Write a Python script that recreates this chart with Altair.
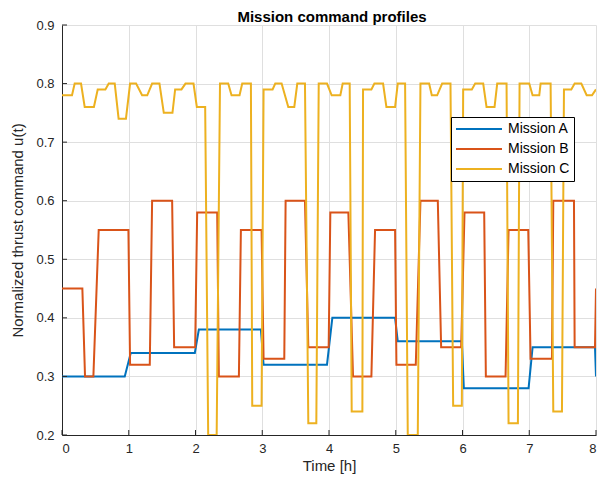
import altair as alt
import pandas as pd

# ---- data (breakpoints of each command profile) ----
series_names = ["Mission A", "Mission B", "Mission C"]
series_colors = ["#0072BD", "#D95319", "#EDB120"]

time_a = [0, 0.94, 1.03, 1.99, 2.05, 2.98, 3.02, 3.97, 4.05, 4.99, 5.03,
          5.99, 6.02, 6.99, 7.05, 7.985, 8.0]
cmd_a = [0.30, 0.30, 0.34, 0.34, 0.38, 0.38, 0.32, 0.32, 0.40, 0.40, 0.36,
         0.36, 0.28, 0.28, 0.35, 0.35, 0.30]

time_b = [0, 0.305, 0.345, 0.47, 0.55, 0.995, 1.02, 1.315, 1.35, 1.65, 1.68,
          1.995, 2.025, 2.325, 2.35, 2.65, 2.68, 2.99, 3.02, 3.33, 3.35, 3.64,
          3.69, 3.995, 4.02, 4.29, 4.36, 4.635, 4.69, 4.99, 5.01, 5.30, 5.37,
          5.63, 5.68, 5.98, 6.03, 6.325, 6.35, 6.645, 6.69, 6.985, 7.02, 7.34,
          7.36, 7.67, 7.68, 7.985, 8.0]
cmd_b = [0.45, 0.45, 0.30, 0.30, 0.55, 0.55, 0.32, 0.32, 0.60, 0.60, 0.35,
         0.35, 0.58, 0.58, 0.30, 0.30, 0.55, 0.55, 0.33, 0.33, 0.60, 0.60,
         0.35, 0.35, 0.58, 0.58, 0.30, 0.30, 0.55, 0.55, 0.32, 0.32, 0.60,
         0.60, 0.35, 0.35, 0.58, 0.58, 0.30, 0.30, 0.55, 0.55, 0.33, 0.33,
         0.60, 0.60, 0.35, 0.35, 0.45]

time_c = [0, 0.15, 0.19, 0.285, 0.34, 0.478, 0.535, 0.65, 0.70, 0.79, 0.848,
          0.958, 1.02, 1.11, 1.20, 1.277, 1.35, 1.46, 1.525, 1.655, 1.695,
          1.79, 1.85, 1.97, 2.02, 2.145, 2.19, 2.317, 2.367, 2.49, 2.54, 2.66,
          2.70, 2.83, 2.85, 2.99, 3.02, 3.155, 3.195, 3.29, 3.39, 3.48, 3.525,
          3.64, 3.69, 3.81, 3.846, 3.97, 4.04, 4.17, 4.205, 4.31, 4.34, 4.50,
          4.51, 4.635, 4.68, 4.81, 4.86, 4.99, 5.03, 5.14, 5.18, 5.33, 5.37,
          5.50, 5.54, 5.62, 5.695, 5.82, 5.86, 5.99, 6.01, 6.14, 6.19, 6.31,
          6.36, 6.48, 6.52, 6.66, 6.69, 6.83, 6.855, 7.00, 7.05, 7.15, 7.17,
          7.32, 7.36, 7.49, 7.52, 7.63, 7.68, 7.78, 7.86, 7.94, 8.0]
cmd_c = [0.78, 0.78, 0.80, 0.80, 0.76, 0.76, 0.79, 0.79, 0.80, 0.80, 0.74,
         0.74, 0.80, 0.80, 0.78, 0.78, 0.80, 0.80, 0.75, 0.75, 0.79,
         0.79, 0.80, 0.80, 0.76, 0.76, 0.20, 0.20, 0.80, 0.80, 0.78, 0.78,
         0.80, 0.80, 0.25, 0.25, 0.79, 0.79, 0.80, 0.80, 0.76, 0.76, 0.80,
         0.80, 0.22, 0.22, 0.80, 0.80, 0.78, 0.78, 0.80, 0.80, 0.24, 0.24,
         0.79, 0.79, 0.80, 0.80, 0.76, 0.76, 0.80, 0.80, 0.20, 0.20, 0.80,
         0.80, 0.78, 0.78, 0.80, 0.80, 0.25, 0.25, 0.79, 0.79, 0.80, 0.80,
         0.76, 0.76, 0.80, 0.80, 0.22, 0.22, 0.80, 0.80, 0.78, 0.78, 0.80,
         0.80, 0.24, 0.24, 0.79, 0.79, 0.80, 0.80, 0.78, 0.78, 0.79]

x_ticks = [0, 1, 2, 3, 4, 5, 6, 7, 8]
y_ticks = [0.2, 0.3, 0.4, 0.5, 0.6, 0.7, 0.8, 0.9]

rows = []
for name, ts, vs in zip(series_names, [time_a, time_b, time_c], [cmd_a, cmd_b, cmd_c]):
    for i, (t, v) in enumerate(zip(ts, vs)):
        rows.append({"series": name, "t": t, "u": v, "idx": i})
df = pd.DataFrame(rows)

W, H = 534, 410
FONT = "Liberation Sans"
AXIS_COLOR = "#262626"
X_TITLE = "Time [h]"
Y_TITLE = "Normalized thrust command u(t)"
TICK_LEN = 5

xscale = alt.Scale(domain=[0, 8], nice=False, zero=False)
yscale = alt.Scale(domain=[0.2, 0.9], nice=False, zero=False)

lines = alt.Chart(df).mark_line(strokeWidth=2, clip=True).encode(
    x=alt.X("t:Q", scale=xscale, title=X_TITLE,
            axis=alt.Axis(values=x_ticks, format="d", ticks=False,
                          labelPadding=7, titlePadding=3)),
    y=alt.Y("u:Q", scale=yscale, title=Y_TITLE,
            axis=alt.Axis(values=y_ticks, format=".1f", ticks=False,
                          labelPadding=8, titlePadding=10)),
    color=alt.Color("series:N",
                    scale=alt.Scale(domain=series_names, range=series_colors),
                    legend=alt.Legend(title=None, orient="none",
                                      legendX=389, legendY=92,
                                      symbolType="stroke", symbolSize=2116,
                                      symbolStrokeWidth=2, clipHeight=16,
                                      rowPadding=4, labelOffset=5, padding=4,
                                      strokeColor="black", fillColor="white",
                                      labelFontSize=14, labelColor="black",
                                      labelFont=FONT)),
    order=alt.Order("idx:Q"),
)

xt = alt.Chart(pd.DataFrame({"t": x_ticks})).mark_rule(
    color=AXIS_COLOR, strokeWidth=1).encode(
    x=alt.X("t:Q", scale=xscale, title=X_TITLE),
    y=alt.value(H - TICK_LEN), y2=alt.value(H))

yt = alt.Chart(pd.DataFrame({"u": y_ticks})).mark_rule(
    color=AXIS_COLOR, strokeWidth=1).encode(
    y=alt.Y("u:Q", scale=yscale, title=Y_TITLE),
    x=alt.value(0), x2=alt.value(TICK_LEN))

chart = alt.layer(lines, xt, yt).properties(
    width=W, height=H,
    title=alt.Title("Mission command profiles", fontSize=15, fontWeight="bold",
                    font=FONT, color="black", anchor="middle", offset=-6,
                    dx=3, frame="group"),
    autosize=alt.AutoSizeParams(type="none"),
    padding={"left": 54, "top": 17, "right": 3, "bottom": 39},
).configure_axis(
    labelFont=FONT, labelFontSize=13, labelColor=AXIS_COLOR,
    titleFont=FONT, titleFontSize=15, titleColor=AXIS_COLOR,
    titleFontWeight="normal", domainColor=AXIS_COLOR, domainWidth=1,
    gridColor="#dfdfdf", gridWidth=1,
).configure_view(strokeWidth=0)

chart.save("out.html", embed_options={"renderer": "svg", "actions": False})
